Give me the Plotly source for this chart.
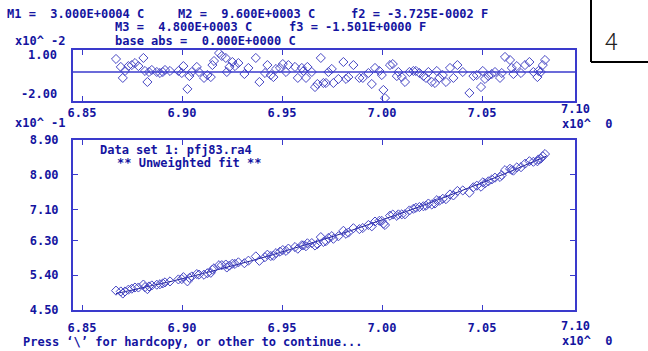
import plotly.graph_objects as go

W, H = 648, 351
TXT = "#1414a0"
FRAME = "#3a3acc"
PT = "#4646c4"
FONT = "DejaVu Sans Mono"

# ---- data ----
x_obs = [6.867, 6.8694, 6.8704, 6.8715, 6.8732, 6.8749, 6.8765, 6.8782, 6.8807, 6.8815,
         6.8827, 6.8835, 6.8849, 6.8874, 6.889, 6.8904, 6.8915, 6.894, 6.8982, 6.8999,
         6.9007, 6.9027, 6.9037, 6.9049, 6.9074, 6.9085, 6.911, 6.9127, 6.9144, 6.9152,
         6.916, 6.9185, 6.9199, 6.9219, 6.9224, 6.9237, 6.9252, 6.9265, 6.9282, 6.9312,
         6.9332, 6.9369, 6.9387, 6.9415, 6.9427, 6.9444, 6.9457, 6.947, 6.949, 6.9504,
         6.952, 6.9532, 6.9565, 6.9579, 6.9599, 6.9607, 6.962, 6.9627, 6.9649, 6.9665,
         6.9677, 6.9694, 6.9707, 6.972, 6.9732, 6.9749, 6.9757, 6.9782, 6.9807, 6.982,
         6.9832, 6.9857, 6.9887, 6.9904, 6.9932, 6.9949, 6.9965, 6.9987, 6.9999, 7.0007,
         7.0015, 7.004, 7.0054, 7.0074, 7.0082, 7.0099, 7.0115, 7.0137, 7.0157, 7.017,
         7.0187, 7.0207, 7.022, 7.0232, 7.0249, 7.0265, 7.0274, 7.0287, 7.0304, 7.032,
         7.034, 7.0357, 7.0377, 7.0404, 7.0437, 7.0457, 7.0474, 7.0495, 7.0504, 7.0515,
         7.0532, 7.0549, 7.0565, 7.059, 7.0599, 7.0615, 7.064, 7.0649, 7.0657, 7.0674,
         7.0695, 7.0715, 7.0737, 7.0757, 7.0777, 7.0782, 7.0794, 7.0804, 7.0815]

y_obs = [5.001, 4.980, 4.926, 4.979, 5.026, 5.051, 5.082, 5.082, 5.159, 5.092,
         5.040, 5.109, 5.136, 5.154, 5.167, 5.189, 5.215, 5.240, 5.291, 5.300,
         5.351, 5.241, 5.330, 5.369, 5.431, 5.416, 5.413, 5.452, 5.462, 5.544,
         5.579, 5.660, 5.661, 5.677, 5.600, 5.648, 5.698, 5.693, 5.734, 5.711,
         5.776, 5.888, 5.772, 5.867, 5.931, 5.897, 5.904, 5.973, 6.009, 6.052,
         6.030, 6.089, 6.130, 6.086, 6.176, 6.171, 6.151, 6.227, 6.232, 6.169,
         6.206, 6.387, 6.260, 6.283, 6.366, 6.412, 6.343, 6.408, 6.550, 6.473,
         6.504, 6.617, 6.593, 6.622, 6.700, 6.665, 6.789, 6.809, 6.807, 6.733,
         6.700, 6.941, 6.971, 6.937, 6.975, 6.976, 6.978, 7.077, 7.120, 7.146,
         7.165, 7.185, 7.199, 7.256, 7.230, 7.256, 7.343, 7.328, 7.378, 7.369,
         7.491, 7.465, 7.581, 7.594, 7.536, 7.677, 7.718, 7.691, 7.803, 7.780,
         7.831, 7.879, 7.925, 7.943, 7.990, 8.120, 8.155, 8.126, 8.107, 8.191,
         8.196, 8.286, 8.351, 8.336, 8.350, 8.397, 8.418, 8.481, 8.537]

residuals = [0.77, 0.30, -0.35, 0.06, 0.35, 0.41, 0.53, 0.35, 0.83, 0.06,
             -0.59, 0.00, 0.12, 0.00, -0.06, 0.00, 0.12, 0.06, 0.06, -0.06,
             0.35, -1.00, -0.24, 0.00, 0.30, 0.00, -0.35, -0.18, -0.30, 0.41,
             0.65, 1.12, 0.95, 0.83, 0.00, 0.30, 0.59, 0.35, 0.53, -0.12,
             0.24, 0.83, -0.59, -0.06, 0.41, -0.18, -0.30, 0.18, 0.24, 0.47,
             0.00, 0.41, 0.30, -0.35, 0.24, 0.06, -0.35, 0.30, 0.00, -0.89,
             -0.71, 0.83, -0.65, -0.65, 0.00, 0.18, -0.65, -0.41, 0.59, -0.41,
             -0.30, 0.41, -0.35, -0.35, -0.06, -0.71, 0.24, 0.06, -0.18, -1.06,
             -1.54, 0.41, 0.47, -0.24, 0.00, -0.30, -0.59, 0.00, 0.06, 0.06,
             -0.06, -0.24, -0.35, 0.00, -0.59, -0.65, 0.06, -0.35, -0.18, -0.59,
             0.24, -0.35, 0.41, 0.00, -1.24, -0.24, -0.18, -0.89, 0.06, -0.41,
             -0.24, -0.12, 0.00, -0.35, -0.06, 0.89, 0.71, 0.24, -0.12, 0.35,
             -0.06, 0.41, 0.59, 0.00, -0.30, 0.06, 0.00, 0.41, 0.71]

x_fit = [6.867, 6.875, 6.885, 6.895, 6.905, 6.915, 6.925, 6.935, 6.945, 6.955, 6.965, 6.975,
         6.985, 6.995, 7.005, 7.015, 7.025, 7.035, 7.045, 7.055, 7.065, 7.075, 7.082]
y_fit = [4.924, 5.012, 5.126, 5.246, 5.371, 5.501, 5.637, 5.778, 5.925, 6.077, 6.234, 6.397,
         6.565, 6.739, 6.918, 7.102, 7.292, 7.487, 7.688, 7.894, 8.105, 8.322, 8.477]

x_ticks = [6.85, 6.90, 6.95, 7.00, 7.05]
x_tick_text = ["6.85", "6.90", "6.95", "7.00", "7.05"]
y_ticks = [4.50, 5.40, 6.30, 7.10, 8.00, 8.90]
y_tick_text = ["4.50", "5.40", "6.30", "7.10", "8.00", "8.90"]

header = [
    ("M1 =  3.000E+0004 C", 5, 14), ("M2 =  9.600E+0003 C", 176, 14), ("f2 = -3.725E-0002 F", 349, 14),
    ("M3 =  4.800E+0003 C", 113, 27), ("f3 = -1.501E+0000 F", 287, 27),
    ("x10^ -2", 13, 41), ("base abs =  0.000E+0000 C", 113, 41),
    ("x10^ -1", 13, 123), ("x10^  0", 560, 124), ("x10^  0", 560, 341),
    ("Press ‘\\’ for hardcopy, or other to continue...", 21, 342),
    ("Data set 1: pfj83.ra4", 98, 150), ("** Unweighted fit **", 115, 163),
]

# ---- geometry ----
XL, XR = 73, 575
TOP_T, TOP_B = 50, 101
BOT_T, BOT_B = 140, 310
def px(x): return x / W
def py(y): return 1 - y / H

fig = go.Figure()
fig.add_trace(go.Scatter(x=x_fit, y=y_fit, mode="lines", line=dict(color="#1a1a90", width=1),
                         xaxis="x", yaxis="y", hoverinfo="skip"))
fig.add_trace(go.Scatter(x=x_obs, y=y_obs, mode="markers",
                         marker=dict(symbol="diamond-open", size=7, color=PT, line=dict(width=1, color=PT)),
                         xaxis="x", yaxis="y"))
fig.add_trace(go.Scatter(x=x_obs, y=residuals, mode="markers",
                         marker=dict(symbol="diamond-open", size=7, color=PT, line=dict(width=1, color=PT)),
                         xaxis="x2", yaxis="y2"))

tickfont = dict(family=FONT, size=12, color=TXT, weight="bold")
xr = [6.8455, 7.0965]
common_x = dict(range=xr, domain=[px(XL), px(XR)], tickvals=x_ticks, ticktext=x_tick_text,
                ticks="inside", ticklen=5, tickcolor=FRAME, tickwidth=1, showline=True, linecolor=FRAME,
                linewidth=2, mirror="ticks", showgrid=False, zeroline=False, tickfont=tickfont,
                automargin=False)

fig.update_layout(
    width=W, height=H, margin=dict(l=0, r=0, t=0, b=0, autoexpand=False),
    paper_bgcolor="white", plot_bgcolor="white", showlegend=False,
    xaxis=dict(anchor="y", ticklabelstandoff=6, **common_x),
    yaxis=dict(anchor="x", domain=[py(BOT_B), py(BOT_T)], range=[4.5, 8.9], tickvals=y_ticks,
               ticktext=y_tick_text, ticks="inside", ticklen=5, tickcolor=FRAME, showline=True,
               linecolor=FRAME, linewidth=2, mirror="ticks", showgrid=False, zeroline=False,
               tickfont=tickfont, ticklabelstandoff=10, automargin=False),
    xaxis2=dict(anchor="y2", ticklabelstandoff=0, **common_x),
    yaxis2=dict(anchor="x2", domain=[py(TOP_B), py(TOP_T)], range=[-1.714, 1.3], showticklabels=False,
                ticks="", showline=True, linecolor=FRAME, linewidth=2, mirror=True, showgrid=False,
                zeroline=False, automargin=False),
)

fig.add_shape(type="line", xref="x2 domain", yref="y2", x0=0, x1=1, y0=0, y1=0,
              line=dict(color=FRAME, width=1.5))

ann = []
for text, x, y in header:
    ann.append(dict(text=text, x=px(x), y=py(y), xref="paper", yref="paper", xanchor="left",
                    yanchor="middle", showarrow=False, font=tickfont))
# axis-end labels drawn by the original program at the frame ends
for text, x, y, xa in [("1.00", 59, 55, "right"), ("-2.00", 59, 94, "right"),
                       ("7.10", 575, 109, "center"), ("7.10", 575, 326, "center")]:
    ann.append(dict(text=text, x=px(x), y=py(y), xref="paper", yref="paper", xanchor=xa,
                    yanchor="middle", showarrow=False, font=tickfont))
ann.append(dict(text="4", x=px(620), y=py(20), xref="paper", yref="paper", showarrow=False,
                font=dict(family="Noto Sans CJK JP", size=24, color="#222222", weight=300)))
fig.update_layout(annotations=ann)

fig.add_shape(type="line", xref="paper", yref="paper", x0=px(591), x1=px(591), y0=py(0), y1=py(62),
              line=dict(color="black", width=2))
fig.add_shape(type="line", xref="paper", yref="paper", x0=px(591), x1=px(648), y0=py(62), y1=py(62),
              line=dict(color="black", width=2))

fig.write_html("out.html")
